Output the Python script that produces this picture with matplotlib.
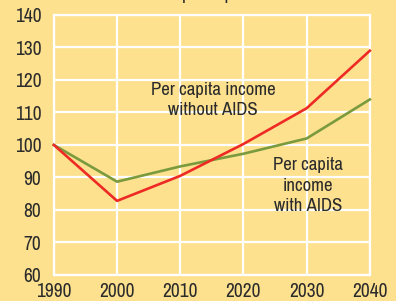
import matplotlib.pyplot as plt

years = [1990, 2000, 2010, 2020, 2030, 2040]
without_aids = [100, 82.8, 90.5, 100.3, 111.3, 129]
with_aids = [100, 88.7, 93.4, 97.3, 102, 114]

bg = '#fde18f'
txt = '#2b2b2b'

plt.rcParams['font.family'] = ['Archivo Narrow', 'DejaVu Sans']

fig = plt.figure(figsize=(3.96, 3.01), dpi=100, facecolor=bg)
ax = fig.add_axes([0.136, 0.0864, 0.798, 0.864], facecolor=bg)

ax.plot(years, with_aids, color='#7a9a3e', lw=1.9, zorder=3, clip_on=False)
ax.plot(years, without_aids, color='#ee2a24', lw=1.9, zorder=4, clip_on=False)

ax.set_xlim(1990, 2040)
ax.set_ylim(60, 140)
ax.set_xticks(years)
ax.set_yticks(range(60, 141, 10))
ax.grid(True, color='white', lw=1.6)
ax.set_axisbelow(True)
for s in ax.spines.values():
    s.set_color('white')
    s.set_linewidth(1.6)
ax.tick_params(length=0, labelsize=14, colors=txt)
ax.tick_params(axis='y', pad=9)
ax.tick_params(axis='x', pad=5)

ax.text(2015.2, 113.8, 'Per capita income\nwithout AIDS', ha='center', va='center',
        fontsize=13.5, color=txt, linespacing=1.35)
ax.text(2030.2, 87.4, 'Per capita\nincome\nwith AIDS', ha='center', va='center',
        fontsize=13.5, color=txt, linespacing=1.35)

# title cut off at the top of the original picture
fig.text(0.545, 1.0, 'per capita', ha='center', va='baseline', fontsize=13.5, color=txt)

fig.savefig('out.png', dpi=100, facecolor=bg)
